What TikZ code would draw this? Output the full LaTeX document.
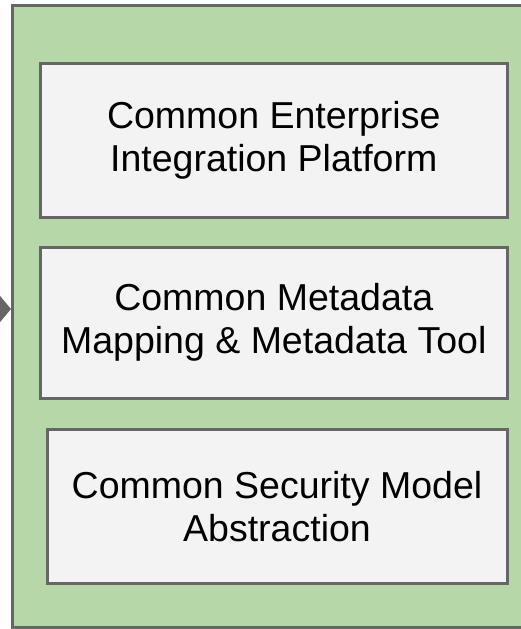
\documentclass[tikz,border=0pt]{standalone}
\usepackage{fontspec}
\setmainfont{Liberation Sans}
\usetikzlibrary{arrows.meta}

\definecolor{panelgreen}{HTML}{B6D7A8}
\definecolor{boxgray}{HTML}{F3F3F3}
\definecolor{edgegray}{HTML}{666666}

\begin{document}
\begin{tikzpicture}[x=1pt, y=-1pt,
    panel/.style = {rectangle,
        draw=edgegray,
        fill=panelgreen,
        line width=3pt},
    layer/.style = {rectangle,
        draw=edgegray,
        fill=boxgray,
        line width=3pt,
        align=center,
        font=\fontsize{37.5}{43}\selectfont}]

% Canvas
\useasboundingbox (0,0) rectangle (520,629);

% Outer panel
\node[panel, minimum width=528pt, minimum height=621.5pt] (P) at (276.5,316.25) {};

% Layer 1
\node[layer, minimum width=466.5pt, minimum height=153.5pt] (L1) at (273.75,140.25)
    {Common Enterprise\\Integration Platform};

% Layer 2
\node[layer, minimum width=466.5pt, minimum height=150.5pt] (L2) at (273.75,322.75)
    {Common Metadata\\Mapping \& Metadata Tool};

% Layer 3
\node[layer, minimum width=460pt, minimum height=154.5pt] (L3) at (277,506.25)
    {Common Security Model\\Abstraction};

% Incoming arrow
\coordinate (In) at (-30,309);
\draw[edgegray, line width=3pt, -{Triangle[length=12pt,width=28pt]}] (In) -- (In -| P.west);

\end{tikzpicture}
\end{document}
